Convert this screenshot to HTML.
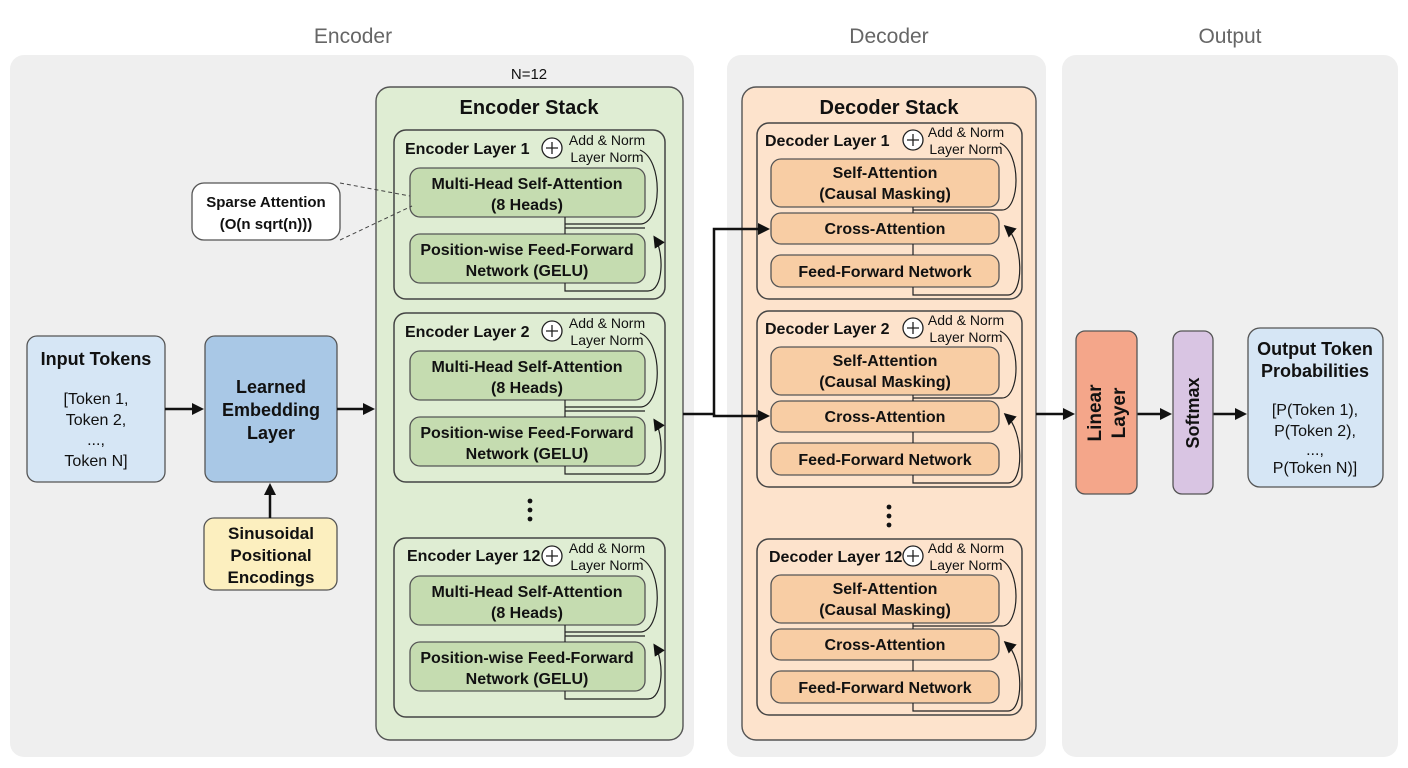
<!DOCTYPE html>
<html><head><meta charset="utf-8"><style>
html,body{margin:0;padding:0;background:#fff}
svg{display:block;font-family:"Liberation Sans",sans-serif}
.b{font-weight:bold}
</style></head><body>
<svg width="1408" height="768" viewBox="0 0 1408 768" xmlns="http://www.w3.org/2000/svg">
<defs>
<marker id="ar" markerWidth="12" markerHeight="12" refX="9" refY="6" orient="auto" markerUnits="userSpaceOnUse"><path d="M0,0 L12,6 L0,12 z" fill="#111"/></marker>
<marker id="as" markerWidth="12" markerHeight="12" refX="9" refY="6" orient="auto" markerUnits="userSpaceOnUse"><path d="M0,0 L12,6 L0,12 z" fill="#111"/></marker>
<g id="enc">
  <rect x="410" y="38" width="235" height="49" rx="10" fill="#c5dcb0" stroke="#555" stroke-width="1.3"/>
  <rect x="410" y="104" width="235" height="49" rx="10" fill="#c5dcb0" stroke="#555" stroke-width="1.3"/>
  <circle cx="552" cy="18" r="10" fill="#fff" stroke="#222" stroke-width="1.3"/>
  <path d="M546,18 H558 M552,12 V24" stroke="#222" stroke-width="1.3"/>
  <text x="607" y="15" font-size="14" text-anchor="middle" fill="#111">Add &amp; Norm</text>
  <text x="607" y="32" font-size="14" text-anchor="middle" fill="#111">Layer Norm</text>
  <text x="527" y="59" font-size="16" class="b" text-anchor="middle" fill="#111">Multi-Head Self-Attention</text>
  <text x="527" y="80" font-size="16" class="b" text-anchor="middle" fill="#111">(8 Heads)</text>
  <text x="527" y="125" font-size="16" class="b" text-anchor="middle" fill="#111">Position-wise Feed-Forward</text>
  <text x="527" y="146" font-size="16" class="b" text-anchor="middle" fill="#111">Network (GELU)</text>
  <path d="M565,87 V104 M565,94 H640 C662,94 664,30 640,20" fill="none" stroke="#222" stroke-width="1.2"/>
  <path d="M565,98 H645 M565,153 V161 H648 C664,161 664,122 655,108" fill="none" stroke="#222" stroke-width="1.2" marker-end="url(#ar)"/>
</g>
<g id="dec">
  <rect x="757" y="0" width="265" height="176" rx="12" fill="none" stroke="#444" stroke-width="1.5"/>
  <rect x="771" y="36" width="228" height="48" rx="10" fill="#f8cda4" stroke="#555" stroke-width="1.3"/>
  <rect x="771" y="90" width="228" height="31" rx="10" fill="#f8cda4" stroke="#555" stroke-width="1.3"/>
  <rect x="771" y="132" width="228" height="32" rx="10" fill="#f8cda4" stroke="#555" stroke-width="1.3"/>
  <circle cx="913" cy="17" r="10" fill="#fff" stroke="#222" stroke-width="1.3"/>
  <path d="M907,17 H919 M913,11 V23" stroke="#222" stroke-width="1.3"/>
  <text x="966" y="14" font-size="14" text-anchor="middle" fill="#111">Add &amp; Norm</text>
  <text x="966" y="31" font-size="14" text-anchor="middle" fill="#111">Layer Norm</text>
  <text x="885" y="55" font-size="16" class="b" text-anchor="middle" fill="#111">Self-Attention</text>
  <text x="885" y="76" font-size="16" class="b" text-anchor="middle" fill="#111">(Causal Masking)</text>
  <text x="885" y="111" font-size="16" class="b" text-anchor="middle" fill="#111">Cross-Attention</text>
  <text x="885" y="154" font-size="16" class="b" text-anchor="middle" fill="#111">Feed-Forward Network</text>
  <path d="M913,84 V90 M913,121 V132 M913,87 H1002 C1020,87 1022,30 1000,20" fill="none" stroke="#222" stroke-width="1.2"/>
  <path d="M913,164 V172 H1008 C1024,172 1024,120 1006,104" fill="none" stroke="#222" stroke-width="1.2" marker-end="url(#ar)"/>
</g>
</defs>

<rect x="10" y="55" width="684" height="702" rx="14" fill="#efefef"/>
<rect x="727" y="55" width="319" height="702" rx="14" fill="#efefef"/>
<rect x="1062" y="55" width="336" height="702" rx="14" fill="#efefef"/>
<text x="353" y="43" font-size="21" text-anchor="middle" fill="#666">Encoder</text>
<text x="889" y="43" font-size="21" text-anchor="middle" fill="#666">Decoder</text>
<text x="1230" y="43" font-size="21" text-anchor="middle" fill="#666">Output</text>

<text x="529" y="79" font-size="15" text-anchor="middle" fill="#111">N=12</text>
<rect x="376" y="87" width="307" height="653" rx="14" fill="#dfedd3" stroke="#555" stroke-width="1.4"/>
<text x="529" y="114" font-size="20" class="b" text-anchor="middle" fill="#111">Encoder Stack</text>
<rect x="394" y="130" width="271" height="169" rx="12" fill="none" stroke="#444" stroke-width="1.5"/>
<rect x="394" y="313" width="271" height="169" rx="12" fill="none" stroke="#444" stroke-width="1.5"/>
<rect x="394" y="538" width="271" height="179" rx="12" fill="none" stroke="#444" stroke-width="1.5"/>
<use href="#enc" transform="translate(0,130)"/>
<use href="#enc" transform="translate(0,313)"/>
<use href="#enc" transform="translate(0,538)"/>
<text x="405" y="154" font-size="16" class="b" fill="#111">Encoder Layer 1</text>
<text x="405" y="337" font-size="16" class="b" fill="#111">Encoder Layer 2</text>
<text x="407" y="561" font-size="16" class="b" fill="#111">Encoder Layer 12</text>
<g fill="#111"><circle cx="530" cy="501" r="2.4"/><circle cx="530" cy="510" r="2.4"/><circle cx="530" cy="519" r="2.4"/></g>

<rect x="742" y="87" width="294" height="653" rx="14" fill="#fde3cc" stroke="#555" stroke-width="1.4"/>
<text x="889" y="114" font-size="20" class="b" text-anchor="middle" fill="#111">Decoder Stack</text>
<use href="#dec" transform="translate(0,123)"/>
<use href="#dec" transform="translate(0,311)"/>
<use href="#dec" transform="translate(0,539)"/>
<text x="765" y="146" font-size="16" class="b" fill="#111">Decoder Layer 1</text>
<text x="765" y="334" font-size="16" class="b" fill="#111">Decoder Layer 2</text>
<text x="769" y="562" font-size="16" class="b" fill="#111">Decoder Layer 12</text>
<g fill="#111"><circle cx="889" cy="507" r="2.4"/><circle cx="889" cy="516" r="2.4"/><circle cx="889" cy="525" r="2.4"/></g>

<rect x="27" y="336" width="138" height="146" rx="10" fill="#d6e6f5" stroke="#555" stroke-width="1.3"/>
<text x="96" y="365" font-size="18" class="b" text-anchor="middle" fill="#111">Input Tokens</text>
<text x="96" y="404" font-size="16" text-anchor="middle" fill="#111">[Token 1,</text>
<text x="96" y="425" font-size="16" text-anchor="middle" fill="#111">Token 2,</text>
<text x="96" y="445" font-size="16" text-anchor="middle" fill="#111">...,</text>
<text x="96" y="466" font-size="16" text-anchor="middle" fill="#111">Token N]</text>
<rect x="205" y="336" width="132" height="146" rx="10" fill="#a9c8e6" stroke="#555" stroke-width="1.3"/>
<text x="271" y="393" font-size="18" class="b" text-anchor="middle" fill="#111">Learned</text>
<text x="271" y="416" font-size="18" class="b" text-anchor="middle" fill="#111">Embedding</text>
<text x="271" y="439" font-size="18" class="b" text-anchor="middle" fill="#111">Layer</text>
<rect x="204" y="518" width="133" height="72" rx="10" fill="#fcefbf" stroke="#555" stroke-width="1.3"/>
<text x="271" y="539" font-size="17" class="b" text-anchor="middle" fill="#111">Sinusoidal</text>
<text x="271" y="561" font-size="17" class="b" text-anchor="middle" fill="#111">Positional</text>
<text x="271" y="583" font-size="17" class="b" text-anchor="middle" fill="#111">Encodings</text>
<rect x="192" y="183" width="148" height="57" rx="12" fill="#fff" stroke="#555" stroke-width="1.3"/>
<text x="266" y="207" font-size="15" class="b" text-anchor="middle" fill="#111">Sparse Attention</text>
<text x="266" y="229" font-size="15" class="b" text-anchor="middle" fill="#111">(O(n sqrt(n)))</text>
<path d="M340,183 L410,196 M340,240 L412,206" stroke="#444" stroke-width="1" stroke-dasharray="4,3"/>

<g stroke="#111" stroke-width="2.5" fill="none">
<path d="M165,409 H201" marker-end="url(#as)"/>
<path d="M337,409 H372" marker-end="url(#as)"/>
<path d="M270,518 V486" marker-end="url(#as)"/>
<path d="M683,414 H714 V229 H767" marker-end="url(#as)"/>
<path d="M714,414 V416 H767" marker-end="url(#as)"/>
<path d="M1036,414 H1072" marker-end="url(#as)"/>
<path d="M1137,414 H1169" marker-end="url(#as)"/>
<path d="M1213,414 H1244" marker-end="url(#as)"/>
</g>

<rect x="1076" y="331" width="61" height="163" rx="9" fill="#f4a68a" stroke="#555" stroke-width="1.3"/>
<text transform="translate(1101,413) rotate(-90)" font-size="19" class="b" text-anchor="middle" fill="#111">Linear</text>
<text transform="translate(1125,413) rotate(-90)" font-size="19" class="b" text-anchor="middle" fill="#111">Layer</text>
<rect x="1173" y="331" width="40" height="163" rx="9" fill="#d9c5e3" stroke="#555" stroke-width="1.3"/>
<text transform="translate(1199,413) rotate(-90)" font-size="18" class="b" text-anchor="middle" fill="#111">Softmax</text>
<rect x="1248" y="328" width="135" height="159" rx="12" fill="#d6e6f5" stroke="#555" stroke-width="1.3"/>
<text x="1315" y="355" font-size="18" class="b" text-anchor="middle" fill="#111">Output Token</text>
<text x="1315" y="377" font-size="18" class="b" text-anchor="middle" fill="#111">Probabilities</text>
<text x="1315" y="415" font-size="16" text-anchor="middle" fill="#111">[P(Token 1),</text>
<text x="1315" y="436" font-size="16" text-anchor="middle" fill="#111">P(Token 2),</text>
<text x="1315" y="455" font-size="16" text-anchor="middle" fill="#111">...,</text>
<text x="1315" y="473" font-size="16" text-anchor="middle" fill="#111">P(Token N)]</text>
</svg>
</body></html>
